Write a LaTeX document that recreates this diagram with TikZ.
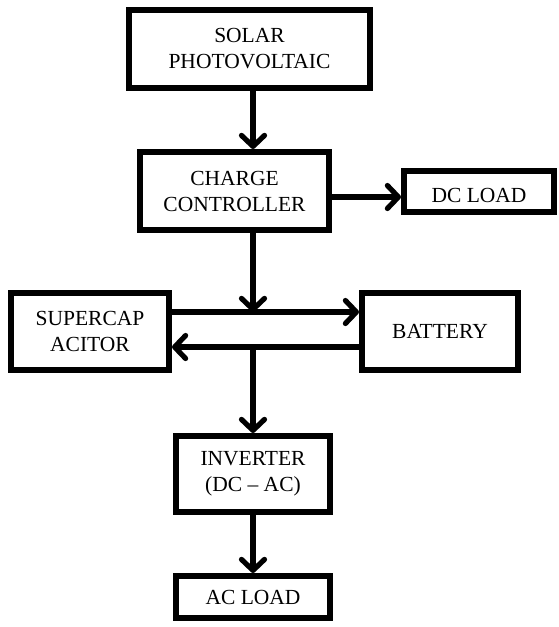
\documentclass[tikz,border=0pt]{standalone}
\usepackage{fontspec}
\setmainfont{Liberation Serif}
\usetikzlibrary{arrows.meta}
\begin{document}
\begin{tikzpicture}[x=1pt,y=-1pt,
  blk/.style={draw, line width=5.8pt, rectangle, align=center, inner sep=0pt,
    font=\fontsize{21.5}{26}\selectfont},
  arr/.style={line width=5.2pt, -{Straight Barb[length=11pt,width=23pt,round]}}]
\useasboundingbox (0,0) rectangle (558,627);
\node[blk, minimum width=241.2pt, minimum height=78.2pt] (sol) at (249.5,49) {SOLAR\\PHOTOVOLTAIC};
\node[blk, minimum width=189.2pt, minimum height=78.2pt] (cc) at (234.5,191) {CHARGE\\CONTROLLER};
\node[blk, minimum width=150.2pt, minimum height=41.2pt] (dc) at (479,191.5) {\raisebox{-11pt}[0pt][0pt]{DC LOAD}};
\node[blk, minimum width=158.2pt, minimum height=77.2pt] (sc) at (90,331.5) {SUPERCAP\\ACITOR};
\node[blk, minimum width=156.2pt, minimum height=77.2pt] (bat) at (440,331.5) {BATTERY};
\node[blk, minimum width=154.2pt, minimum height=76.2pt] (inv) at (253,474) {INVERTER\\(DC -- AC)};
\node[blk, minimum width=154.2pt, minimum height=42.2pt] (ac) at (253,597) {AC LOAD};
\coordinate (ccout) at (332,197);
\coordinate (up) at (253,312);
\coordinate (lo) at (253,347);
\draw[arr] (sol.south -| inv.north) -- (cc.north -| inv.north);
\draw[arr] (ccout) -- (ccout -| dc.west);
\draw[arr] (cc.south -| inv.north) -- (up);
\draw[arr] (up -| sc.east) -- (up -| bat.west);
\draw[arr] (lo -| bat.west) -- (lo -| sc.east);
\draw[arr] (lo) -- (inv.north);
\draw[arr] (inv.south) -- (ac.north);
\end{tikzpicture}
\end{document}
